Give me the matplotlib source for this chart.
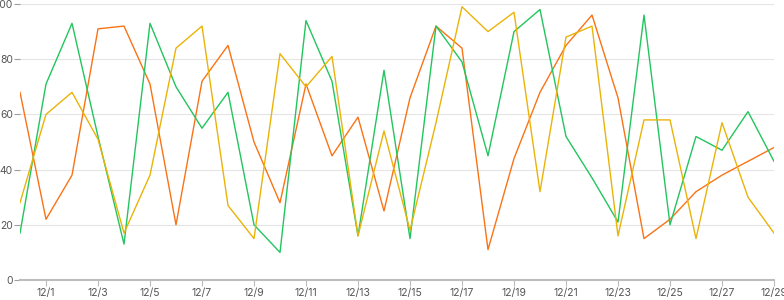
import matplotlib
matplotlib.use("Agg")
from matplotlib import pyplot as plt

# day labels, 11/30 .. 12/29 (only every other one is shown)
DAYS = ["11/30"] + [f"12/{d}" for d in range(1, 30)]

ORANGE = [68, 22, 38, 91, 92, 71, 20, 72, 85, 50, 28, 71, 45, 59, 25,
          66, 92, 84, 11, 44, 68, 85, 96, 66, 15, 22, 32, 38, 43, 48]
GREEN = [17, 71, 93, 52, 13, 93, 70, 55, 68, 20, 10, 94, 72, 16, 76,
         15, 92, 79, 45, 90, 98, 52, 37, 21, 96, 20, 52, 47, 61, 43]
YELLOW = [28, 60, 68, 51, 17, 38, 84, 92, 27, 15, 82, 70, 81, 16, 54,
          18, 57, 99, 90, 97, 32, 88, 92, 16, 58, 58, 15, 57, 30, 17]

Y_TICKS = [0, 20, 40, 60, 80, 100]

plt.rcParams["font.family"] = ["Inter", "DejaVu Sans"]

fig = plt.figure(figsize=(7.84, 3.0), dpi=100)
ax = fig.add_axes([20 / 784, 20 / 300, 754 / 784, 276 / 300])

x = list(range(len(DAYS)))
ax.plot(x, ORANGE, color="#f97316", lw=1.0)
ax.plot(x, GREEN, color="#22c55e", lw=1.0)
ax.plot(x, YELLOW, color="#eab308", lw=1.0)

ax.set_xlim(0, len(DAYS) - 1)
ax.set_ylim(0, 100)

ax.set_yticks(Y_TICKS)
ax.set_xticks(x[1::2])
ax.set_xticklabels(DAYS[1::2])

ax.grid(True, axis="y", color="#e5e5e5", lw=0.8)
ax.set_axisbelow(True)
for side in ["top", "right", "left"]:
    ax.spines[side].set_visible(False)
ax.spines["bottom"].set_color("#bdbdbd")
ax.spines["bottom"].set_linewidth(1.5)

ax.tick_params(axis="y", length=4, width=0.8, color="#9e9e9e", pad=1,
               labelsize=7.5, labelcolor="#555555")
ax.tick_params(axis="x", length=4, width=0.8, color="#bdbdbd", pad=2,
               labelsize=7.5, labelcolor="#555555")

fig.savefig("out.png", dpi=100)
